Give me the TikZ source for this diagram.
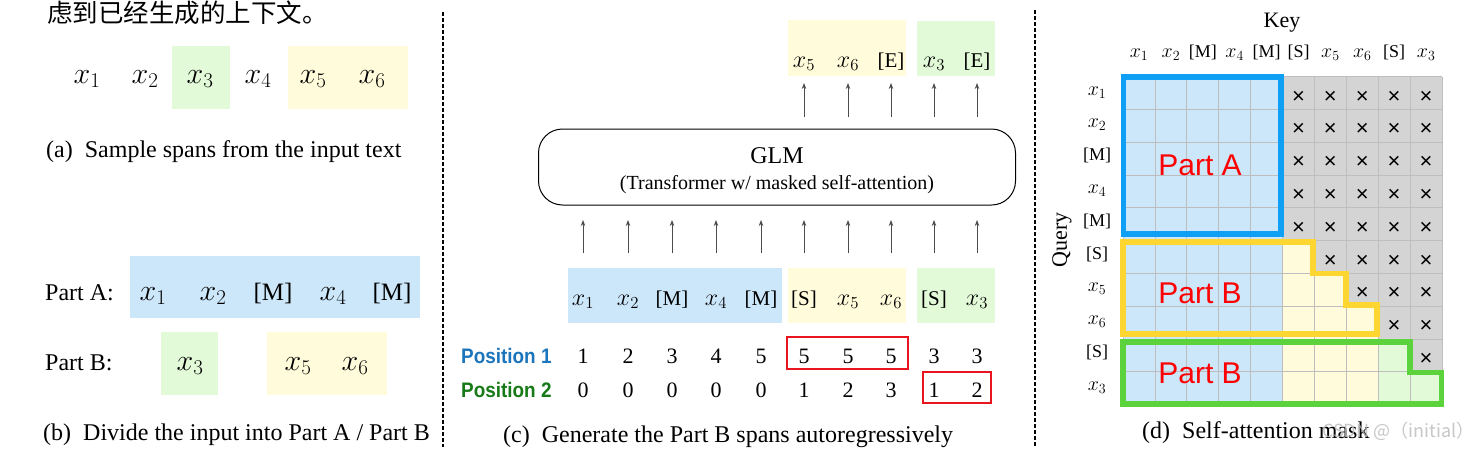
\RequirePackage{fix-cm}
\documentclass[tikz,border=0pt]{standalone}
\usepackage{fontspec}
\setmainfont{Liberation Serif}
\newfontfamily\sansf{Liberation Sans}
\newfontfamily\cjkf{Noto Sans CJK SC}
\usetikzlibrary{arrows.meta}
\newcommand\setfs[1]{\fontsize{#1}{#1}\selectfont}
\definecolor{fblue}{RGB}{204,230,250}
\definecolor{fyellow}{RGB}{255,251,219}
\definecolor{fgreen}{RGB}{226,250,216}
\definecolor{fgray}{RGB}{212,212,212}
\definecolor{gline}{RGB}{190,190,190}
\definecolor{bblue}{RGB}{15,160,245}
\definecolor{byellow}{RGB}{253,214,50}
\definecolor{bgreen}{RGB}{92,211,60}
\definecolor{pos1}{RGB}{27,117,188}
\definecolor{pos2}{RGB}{23,122,23}
\definecolor{rbox}{RGB}{232,20,30}
\definecolor{wmark}{RGB}{185,185,185}
\begin{document}
\begin{tikzpicture}[x=1pt,y=-1pt,
  mA/.style={anchor=base,inner sep=0pt,font=\setfs{30}},
  bA/.style={anchor=base,inner sep=0pt,font=\setfs{25}},
  mC/.style={anchor=base,inner sep=0pt,font=\setfs{24}},
  bC/.style={anchor=base,inner sep=0pt,font=\setfs{21}},
  mD/.style={anchor=base,inner sep=0pt,font=\setfs{20}},
  bD/.style={anchor=base,inner sep=0pt,font=\setfs{18}},
  captxt/.style={anchor=base west,inner sep=0pt,font=\setfs{24}},
  lab/.style={anchor=base west,inner sep=0pt,font=\setfs{24}},
  num/.style={anchor=base,inner sep=0pt,font=\setfs{22}},
  posl/.style={anchor=base west,inner sep=0pt,font=\sansf\bfseries\setfs{21}},
  arr/.style={line width=0.9pt,black!70,-{Stealth[length=6pt,width=4.5pt]}},
  divider/.style={line width=2pt,dash pattern=on 3.5pt off 2.5pt},
  redbox/.style={draw=rbox,line width=1.3pt},
  gridl/.style={gline,line width=0.7pt},
  xmark/.style={inner sep=0pt,font=\sansf\setfs{22}},
  parttxt/.style={anchor=base,inner sep=0pt,text=red,font=\sansf\setfs{30}},
]
\useasboundingbox (0,0) rectangle (1480,450);
\fill[white] (0,0) rectangle (1480,450);

% ---------- header fragment ----------
\node[anchor=base west,inner sep=0pt,font=\cjkf\setfs{25.5}] (cn) at (47,22) {虑到已经生成的上下文。};

% ---------- dividers ----------
\coordinate (d1a) at (443,12); \coordinate (d1b) at (443,447);
\coordinate (d2a) at (1035,10); \coordinate (d2b) at (1035,446);
\draw[divider] (d1a) -- (d1b);
\draw[divider] (d2a) -- (d2b);

% ---------- panel (a) ----------
\fill[fgreen] (172,46) rectangle (230,109);
\fill[fyellow] (288,46) rectangle (408,109);
\foreach \xx/\t [count=\i] in {87/$x_1$,145/$x_2$,200/$x_3$,258/$x_4$,313/$x_5$,372/$x_6$}
  \node[mA] (a\i) at (\xx,83) {\t};
\node[captxt] (capa) at (46,157) {(a)\enspace Sample spans from the input text};

% ---------- panel (b) ----------
\fill[fblue] (130,256) rectangle (420,318);
\fill[fgreen] (161,332) rectangle (218,395);
\fill[fyellow] (267,332) rectangle (387,395);
\node[lab] (partA) at (45,300) {Part A:};
\node[lab] (partB) at (45,370) {Part B:};
\foreach \xx/\st/\t [count=\i] in {153/mA/$x_1$,213/mA/$x_2$,273/bA/[M],333/mA/$x_4$,392/bA/[M]}
  \node[\st] (ba\i) at (\xx,300) {\t};
\foreach \xx/\t [count=\i] in {190/$x_3$,298/$x_5$,355/$x_6$}
  \node[mA] (bb\i) at (\xx,370) {\t};
\node[captxt] (capb) at (43,440) {(b)\enspace Divide the input into Part A / Part B};

% ---------- panel (c) ----------
\fill[fyellow] (788,20) rectangle (906,76);
\fill[fgreen] (917,21) rectangle (995,76);
\fill[fblue] (568,268) rectangle (782,323);
\fill[fyellow] (788,268) rectangle (906,323);
\fill[fgreen] (917,268) rectangle (995,323);

\node[draw,rounded corners=24pt,line width=1pt,minimum width=477pt,minimum height=76pt,inner sep=0pt] (glm) at (777,167) {};
\node[anchor=base,inner sep=0pt,font=\setfs{24}] (glmt) at (777,163) {GLM};
\node[anchor=base,inner sep=0pt,font=\setfs{20}] (glms) at (777,189) {(Transformer w/ masked self-attention)};

\foreach \xx/\st/\t [count=\i] in {583/mC/$x_1$,628/mC/$x_2$,672/bC/[M],716/mC/$x_4$,761/bC/[M],804/bC/[S],848/mC/$x_5$,891/mC/$x_6$,934/bC/[S],977/mC/$x_3$}{
  \node[\st] (in\i) at (\xx,305) {\t};
  \coordinate (ia\i) at (\xx,253);
  \coordinate (ib\i) at (\xx,220);
  \draw[arr] (ia\i) -- (ib\i);
}
\foreach \xx/\st/\t [count=\i] in {804/mC/$x_5$,848/mC/$x_6$,891/bC/[E],934/mC/$x_3$,977/bC/[E]}{
  \node[\st] (out\i) at (\xx,67) {\t};
  \coordinate (oa\i) at (\xx,117);
  \coordinate (ob\i) at (\xx,83);
  \draw[arr] (oa\i) -- (ob\i);
}

\node[posl,text=pos1] (p1) at (461,363) {\scalebox{0.9}[1]{Position 1}};
\node[posl,text=pos2] (p2) at (461,397) {\scalebox{0.9}[1]{Position 2}};
\foreach \xx/\n [count=\i] in {583/1,628/2,672/3,716/4,761/5,804/5,848/5,891/5,934/3,977/3}
  \node[num] (pa\i) at (\xx,363) {\n};
\foreach \xx/\n [count=\i] in {583/0,628/0,672/0,716/0,761/0,804/1,848/2,891/3,934/1,977/2}
  \node[num] (pb\i) at (\xx,397) {\n};
\draw[redbox] (787,337) rectangle (908,369);
\draw[redbox] (923,372) rectangle (991,403);
\node[captxt] (capc) at (503,442) {(c)\enspace Generate the Part B spans autoregressively};

% ---------- panel (d) ----------
\node[anchor=base,inner sep=0pt,font=\setfs{22}] (key) at (1282,27) {Key};
\node[inner sep=0pt,font=\setfs{22},rotate=90] (query) at (1062,240) {Query};
\foreach \st/\t [count=\i from 0] in {mD/$x_1$,mD/$x_2$,bD/[M],mD/$x_4$,bD/[M],bD/[S],mD/$x_5$,mD/$x_6$,bD/[S],mD/$x_3$}{
  \node[\st] (ch\i) at ({1139+\i*31.9},57) {\t};
  \node[\st] (rl\i) at (1097,{95+\i*32.8}) {\t};
}
\begin{scope}[shift={(1123,76.5)},x=31.9pt,y=-32.8pt]
  \fill[fblue] (0,0) rectangle (5,10);
  \fill[fgray] (5,0) -- (10,0) -- (10,9) -- (9,9) -- (9,8) -- (8,8) -- (8,7) -- (7,7) -- (7,6) -- (6,6) -- (6,5) -- (5,5) -- cycle;
  \fill[fyellow] (5,5) -- (6,5) -- (6,6) -- (7,6) -- (7,7) -- (8,7) -- (8,10) -- (5,10) -- cycle;
  \fill[fgreen] (8,8) -- (9,8) -- (9,9) -- (10,9) -- (10,10) -- (8,10) -- cycle;
  \foreach \k in {0,...,10}{
    \draw[gridl] (\k,0) -- (\k,10);
    \draw[gridl] (0,\k) -- (10,\k);
  }
  \foreach \r/\cs in {0/5,1/5,2/5,3/5,4/5,5/6,6/7,7/8,8/9}
    \foreach \c in {\cs,...,9}
      \node[xmark] (xm\r-\c) at (\c+0.5,\r+0.5) [yshift=-4pt] {×};
  \draw[bblue,line width=5.5pt] (0.02,0.02) rectangle (4.96,4.8);
  \draw[byellow,line width=5.5pt,line join=miter] (0,5.05) -- (5.96,5.05) -- (5.96,6.0) -- (6.99,6.0) -- (6.99,6.97) -- (7.96,6.97) -- (7.96,7.85) -- (0,7.85) -- cycle;
  \draw[bgreen,line width=5.5pt,line join=miter] (0,8.1) -- (9.0,8.1) -- (9.0,9.03) -- (9.99,9.03) -- (9.99,9.98) -- (0,9.98) -- cycle;
\end{scope}
\node[parttxt] (tA) at (1200,175) {Part A};
\node[parttxt] (tB1) at (1200,303) {Part B};
\node[parttxt] (tB2) at (1200,383) {Part B};
\node[captxt] (capd) at (1142,438) {(d)\enspace Self-attention mask};
\node[anchor=base west,inner sep=0pt,text=wmark,opacity=0.8,font=\cjkf\setfs{18}] (wm) at (1322,437) {CSDN @（initial）};
\end{tikzpicture}
\end{document}
